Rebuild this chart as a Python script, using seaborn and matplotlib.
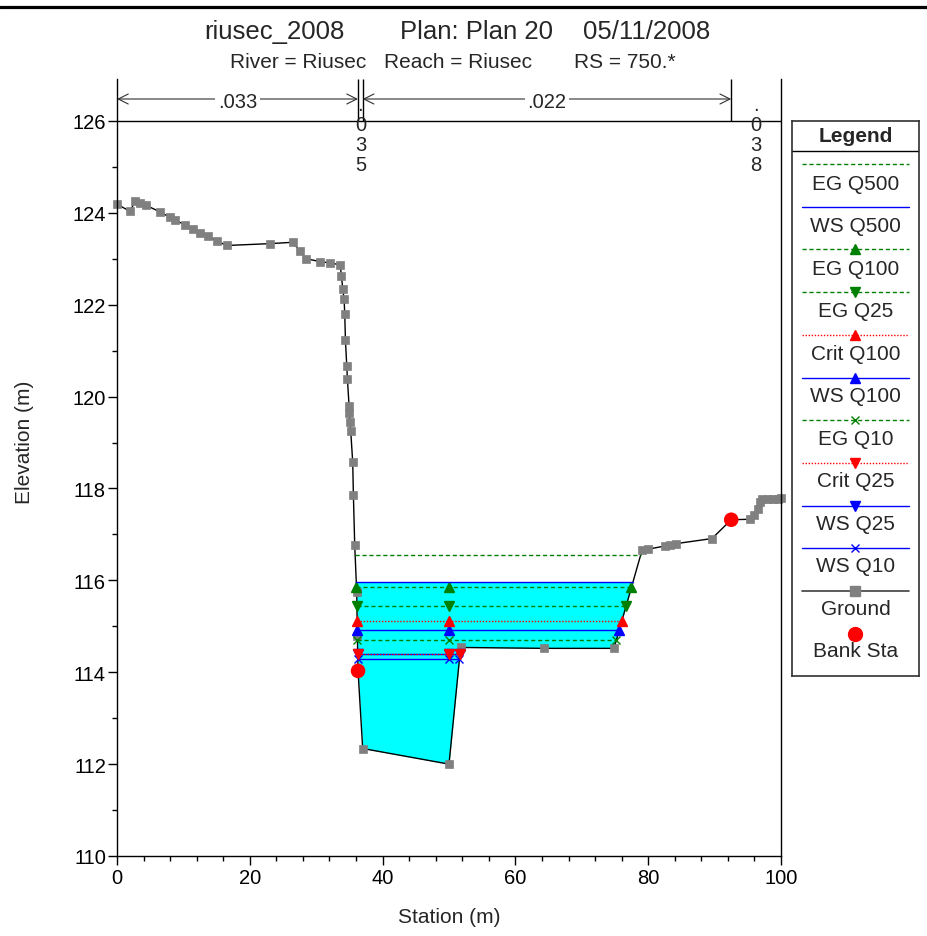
import numpy as np
import matplotlib
matplotlib.use("Agg")
import matplotlib.pyplot as plt
import seaborn as sns
from matplotlib.lines import Line2D
from matplotlib.patches import ArrowStyle

# ---------------- data ----------------
ground_sta = [0.0, 2.0, 2.7, 3.5, 4.3, 6.5, 8.0, 8.7, 10.2, 11.5, 12.5, 13.75, 15.0, 16.5,
              23.0, 26.5, 27.5, 28.5, 30.6, 32.1, 33.6, 33.8, 34.0, 34.2, 34.3, 34.4, 34.6,
              34.7, 34.95, 35.0, 35.1, 35.2, 35.5, 35.6, 35.8, 36.1, 36.2, 36.3, 37.0, 50.0,
              51.75, 64.3, 74.85, 79.1, 80.0, 82.6, 83.3, 84.2, 89.6, 92.5, 95.3, 96.0, 96.5,
              96.8, 97.2, 98.0, 98.8, 99.5, 100.0]
ground_elev = [124.19, 124.03, 124.26, 124.21, 124.17, 124.02, 123.90, 123.85, 123.74, 123.65,
               123.57, 123.49, 123.39, 123.29, 123.33, 123.36, 123.17, 123.00, 122.94, 122.91,
               122.87, 122.63, 122.34, 122.12, 121.80, 121.24, 120.67, 120.38, 119.80, 119.65,
               119.44, 119.25, 118.57, 117.86, 116.77, 115.74, 114.79, 114.03, 112.34, 112.00,
               114.54, 114.52, 114.52, 116.67, 116.68, 116.75, 116.76, 116.80, 116.91, 117.32,
               117.33, 117.42, 117.55, 117.70, 117.77, 117.77, 117.78, 117.78, 117.79]
bank_sta = [36.3, 92.5]
bank_elev = [114.03, 117.32]

n_values = ['.033', '.035', '.022', '.038']
n_breaks = [0.0, 36.3, 37.0, 92.5, 100.0]

profiles = ['EG Q500', 'WS Q500', 'EG Q100', 'EG Q25', 'Crit Q100',
            'WS Q100', 'EG Q10', 'Crit Q25', 'WS Q25', 'WS Q10']
profile_elev = [116.55, 115.96, 115.85, 115.45, 115.11, 114.93, 114.70, 114.40, 114.40, 114.28]
marker_mid_sta = 50.0

title_parts = ['riusec_2008', 'Plan: Plan 20', '05/11/2008']
subtitle_parts = ['River = Riusec', 'Reach = Riusec', 'RS = 750.*']

# ---------------- styles ----------------
GREEN, BLUE, RED = '#008000', '#0000FF', '#FF0000'
style = {
    'EG Q500':   dict(color=GREEN, ls=(0, (3, 2)), marker=None),
    'WS Q500':   dict(color=BLUE, ls='-', marker=None),
    'EG Q100':   dict(color=GREEN, ls=(0, (3, 2)), marker='^'),
    'EG Q25':    dict(color=GREEN, ls=(0, (3, 2)), marker='v'),
    'Crit Q100': dict(color=RED, ls=(0, (1, 1.2)), marker='^'),
    'WS Q100':   dict(color=BLUE, ls='-', marker='^'),
    'EG Q10':    dict(color=GREEN, ls=(0, (3, 2)), marker='x'),
    'Crit Q25':  dict(color=RED, ls=(0, (1, 1.2)), marker='v'),
    'WS Q25':    dict(color=BLUE, ls='-', marker='v'),
    'WS Q10':    dict(color=BLUE, ls='-', marker='x'),
}

sns.set_style("ticks")
plt.rcParams['font.family'] = ['Liberation Sans', 'DejaVu Sans']

W, H = 928, 937
fig = plt.figure(figsize=(W / 100, H / 100), dpi=100)
ax = fig.add_axes([117 / W, 1 - 857 / H, (781 - 117) / W, (857 - 80) / H])

gx = np.array(ground_sta)
gy = np.array(ground_elev)
imin = int(np.argmin(gy))


def extent(z):
    i = imin
    while gy[i] < z:
        i -= 1
    xl = np.interp(z, [gy[i + 1], gy[i]], [gx[i + 1], gx[i]])
    j = imin
    while gy[j] < z:
        j += 1
    xr = np.interp(z, [gy[j - 1], gy[j]], [gx[j - 1], gx[j]])
    return xl, xr


# water fill (highest WS)
z_ws500 = profile_elev[profiles.index('WS Q500')]
ax.fill_between(gx, gy, z_ws500, where=gy < z_ws500, interpolate=True,
                color='#00FFFF', lw=0, zorder=1)

# ground
sns.lineplot(x=gx, y=gy, ax=ax, color='black', lw=1.0, marker='s', markersize=6.2,
             markerfacecolor='#808080', markeredgecolor='#808080', markeredgewidth=0.5,
             sort=False, estimator=None, legend=False, zorder=2, clip_on=False)

# profiles, drawn in reverse legend order
for k, (name, z) in enumerate(reversed(list(zip(profiles, profile_elev)))):
    st = style[name]
    xl, xr = extent(z)
    ax.plot([xl, xr], [z, z], color=st['color'], ls=st['ls'], lw=1.0, zorder=3 + k * 0.01)
    if st['marker']:
        ms = 6 if st['marker'] == 'x' else 7
        ax.plot([xl, marker_mid_sta, xr], [z, z, z], ls='none', marker=st['marker'],
                color=st['color'], ms=ms, mew=1.0, zorder=3 + k * 0.01)

# bank stations
sns.scatterplot(x=bank_sta, y=bank_elev, ax=ax, color=RED, s=110, edgecolor='none',
                zorder=5, legend=False)

# axes
ax.set_xlim(0, 100)
ax.set_ylim(110, 126 + 42 / 45.94)
ax.set_xticks(np.arange(0, 101, 20))
ax.set_xticks(np.arange(0, 101, 4), minor=True)
ax.set_yticks(np.arange(110, 127, 2))
ax.set_yticks(np.arange(111, 126, 2), minor=True)
ax.tick_params(which='major', direction='out', length=6.5, width=1, labelsize=14.5,
               color='black', labelcolor='black')
ax.tick_params(which='minor', direction='out', length=3.6, width=1, color='black')
ax.tick_params(axis='y', pad=1.5)
ax.tick_params(axis='x', pad=2.5)
ax.spines['top'].set_visible(False)
for s in ['left', 'right', 'bottom']:
    ax.spines[s].set_color('black')
    ax.spines[s].set_linewidth(1.0)
ax.set_xlabel('')
ax.set_ylabel('')

# n-value band
ytop = 126 + 42 / 45.94
ax.axhline(126, color='black', lw=1.0, zorder=2)
ax.vlines(n_breaks[1:-1], 126, ytop, color='black', lw=1.0, zorder=2)
yarr = 126 + 22 / 45.94
arrst = ArrowStyle('<->', head_length=0.6, head_width=0.3)
for nv, a, b in zip(n_values, n_breaks[:-1], n_breaks[1:]):
    mid = (a + b) / 2
    if b - a > 10:
        ax.annotate('', xy=(b, yarr), xytext=(a, yarr),
                    arrowprops=dict(arrowstyle=arrst, color='#303030', lw=0.8,
                                    shrinkA=0, shrinkB=0, mutation_scale=12),
                    zorder=3)
        ax.text(mid, yarr - 0.05, nv, ha='center', va='center', fontsize=14.5, zorder=4,
                bbox=dict(facecolor='white', edgecolor='none', pad=2))
    else:
        offs = [7.9, -6.5, -20.9, -35.3]
        for ch, off in zip(nv, offs):
            ax.annotate(ch, xy=(mid, 126), xytext=(0, off), textcoords='offset points',
                        ha='center', va='baseline', fontsize=14.5, zorder=4,
                        annotation_clip=False)

# titles
for txt, cx in zip(title_parts, [274, 476, 647]):
    fig.text(cx / W, 1 - 32 / H, txt, ha='center', va='center', fontsize=18.5)
for txt, cx in zip(subtitle_parts, [298, 458, 624.5]):
    fig.text(cx / W, 1 - 62.5 / H, txt, ha='center', va='center', fontsize=15)

fig.text(25 / W, 1 - 442 / H, 'Elevation (m)', rotation=90, ha='center', va='center',
         fontsize=15)
fig.text(449 / W, 1 - 918 / H, 'Station (m)', ha='center', va='center', fontsize=15)

# top rule
fig.add_artist(Line2D([0, 1], [1 - 7.5 / H] * 2, transform=fig.transFigure,
                      color='black', lw=2.3))

# legend panel
lax = fig.add_axes([792 / W, 1 - 677 / H, 127 / W, 555 / H])
lax.set_xlim(792, 919)
lax.set_ylim(677, 122)
lax.set_xticks([])
lax.set_yticks([])
for s in lax.spines.values():
    s.set_color('#303030')
    s.set_linewidth(1.2)
lax.axhline(152, color='black', lw=1.0)
lax.text(855.5, 136, 'Legend', ha='center', va='center', fontsize=15, fontweight='bold')
entries = profiles + ['Ground', 'Bank Sta']
for i, name in enumerate(entries):
    yl = 165 + 42.7 * i
    yt = 184.5 + 42.5 * i
    if name in style:
        st = style[name]
        lax.plot([802, 909], [yl, yl], color=st['color'], ls=st['ls'], lw=1.0)
        if st['marker']:
            ms = 6 if st['marker'] == 'x' else 7
            lax.plot([855.5], [yl], ls='none', marker=st['marker'], color=st['color'],
                     ms=ms, mew=1.0)
    elif name == 'Ground':
        lax.plot([802, 909], [yl, yl], color='#404040', lw=1.2)
        lax.plot([855.5], [yl], ls='none', marker='s', color='#808080', ms=7.5)
    else:
        lax.plot([855.5], [yl], ls='none', marker='o', color=RED, ms=10)
    lax.text(855.5, yt, name, ha='center', va='center', fontsize=15)

fig.savefig('out.png', dpi=100)
